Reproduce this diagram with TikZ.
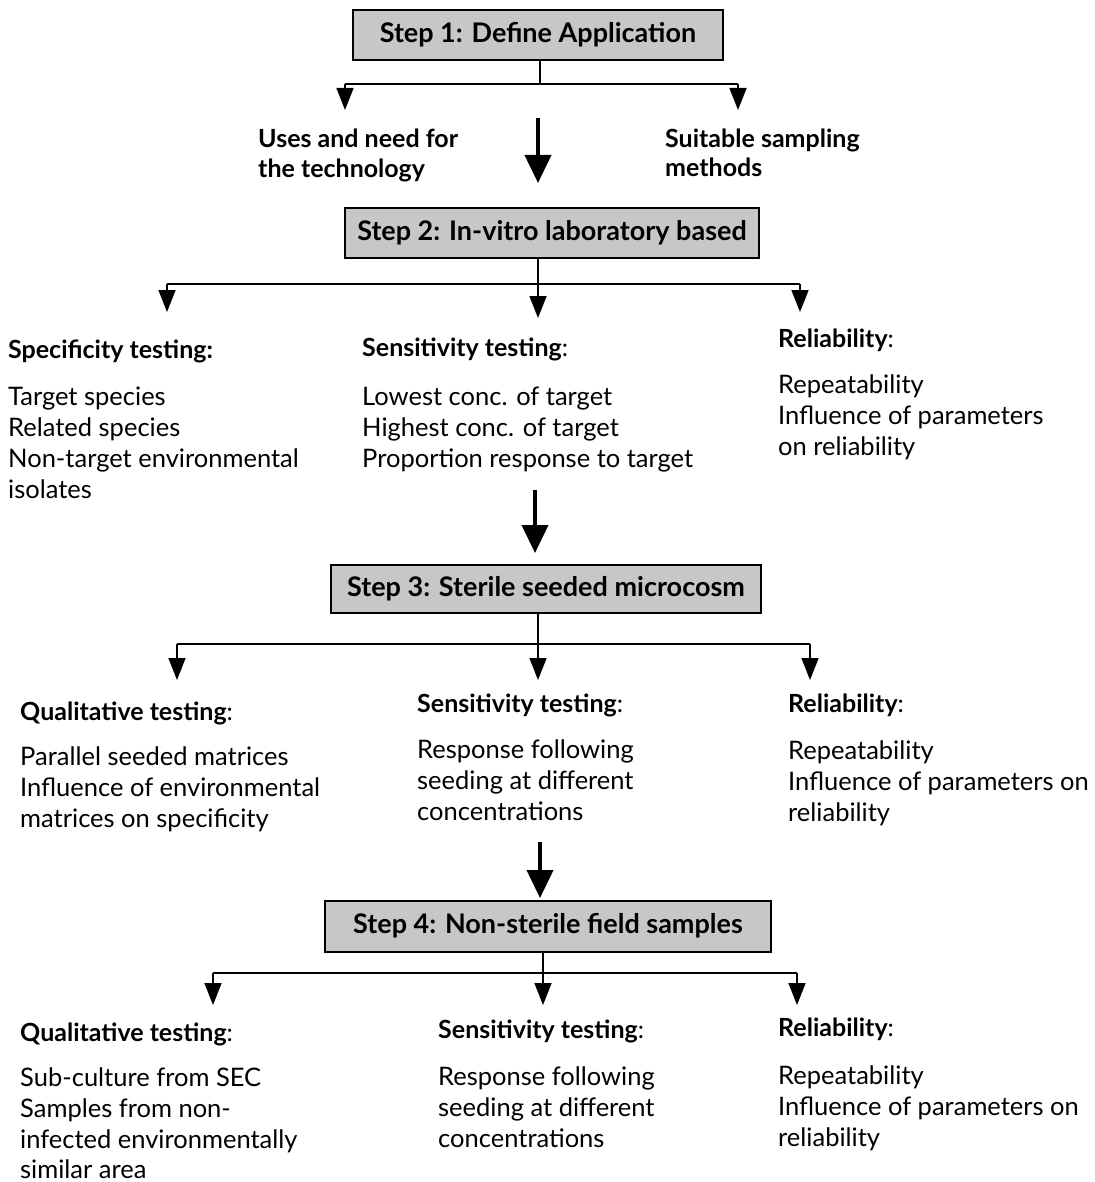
\documentclass[tikz,border=0pt]{standalone}
\usepackage{fontspec}
\setmainfont{Lato}
\usetikzlibrary{arrows.meta}
\begin{document}
\begin{tikzpicture}[x=1pt,y=-1pt,
  body/.style={anchor=base west, inner sep=0pt, font=\fontsize{25.5}{25.5}\selectfont},
  head/.style={anchor=base west, inner sep=0pt, font=\fontsize{25}{25}\selectfont\bfseries},
  stepbox/.style={draw=black, line width=2pt, fill=black!22, inner sep=0pt,
     font=\fontsize{27}{27}\selectfont\bfseries},
  link/.style={line width=1.6pt},
  branch/.style={line width=1.6pt, -{Triangle[width=17pt,length=22pt]}},
  bigarrow/.style={line width=4pt, -{Triangle[width=26pt,length=28pt]}}]
\useasboundingbox (0,0) rectangle (1094,1182);
\fill[white] (0,0) rectangle (1094,1182);

% ---------- Step 1 ----------
\node[stepbox, minimum width=370pt, minimum height=50pt] (s1) at (538,35) {Step 1: Define Application};
\coordinate (j1) at (540,84);
\coordinate (j1l) at (345,84);
\coordinate (j1r) at (738,84);
\coordinate (a1l) at (345,110);
\coordinate (a1r) at (738,110);
\draw[link] (s1.south -| j1) -- (j1);
\draw[link] (j1l) -- (j1r);
\draw[branch] (j1l) -- (a1l);
\draw[branch] (j1r) -- (a1r);
\node[head] (u1) at (258,148) {Uses and need for};
\node[head] (u2) at (258,178) {the technology};
\node[head] (m1) at (665,148) {Suitable sampling};
\node[head] (m2) at (665,177) {methods};
\coordinate (b1s) at (538,118);
\coordinate (b1e) at (538,183);
\draw[bigarrow] (b1s) -- (b1e);

% ---------- Step 2 ----------
\node[stepbox, minimum width=414pt, minimum height=50pt] (s2) at (552,233) {Step 2: In-vitro laboratory based};
\coordinate (j2) at (538,284);
\coordinate (j2l) at (167,284);
\coordinate (j2r) at (800,284);
\draw[link] (s2.south -| j2) -- (j2);
\draw[link] (j2l) -- (j2r);
\draw[branch] (j2l) -- ++(0,28) coordinate (a2l);
\draw[branch] (j2) -- ++(0,34) coordinate (a2m);
\draw[branch] (j2r) -- ++(0,28) coordinate (a2r);

\node[head] (sp0) at (8,358) {Specificity testing:};
\node[body] (sp1) at (8,405) {Target species};
\node[body] (sp2) at (8,436) {Related species};
\node[body] (sp3) at (8,467) {Non-target environmental};
\node[body] (sp4) at (8,498) {isolates};

\node[head] (se0) at (362,356) {Sensitivity testing\mdseries:};
\node[body] (se1) at (362,405) {Lowest conc. of target};
\node[body] (se2) at (362,436) {Highest conc. of target};
\node[body] (se3) at (362,467) {Proportion response to target};

\node[head] (re0) at (778,347) {Reliability\mdseries:};
\node[body] (re1) at (778,393) {Repeatability};
\node[body] (re2) at (778,424) {Influence of parameters};
\node[body] (re3) at (778,455) {on reliability};

\coordinate (b2s) at (535,490);
\coordinate (b2e) at (535,553);
\draw[bigarrow] (b2s) -- (b2e);

% ---------- Step 3 ----------
\node[stepbox, minimum width=430pt, minimum height=48pt] (s3) at (546,589) {Step 3: Sterile seeded microcosm};
\coordinate (j3) at (538,644);
\coordinate (j3l) at (177,644);
\coordinate (j3r) at (810,644);
\draw[link] (s3.south -| j3) -- (j3);
\draw[link] (j3l) -- (j3r);
\draw[branch] (j3l) -- ++(0,36) coordinate (a3l);
\draw[branch] (j3) -- ++(0,36) coordinate (a3m);
\draw[branch] (j3r) -- ++(0,36) coordinate (a3r);

\node[head] (q0) at (20,720) {Qualitative testing\mdseries:};
\node[body] (q1) at (20,765) {Parallel seeded matrices};
\node[body] (q2) at (20,796) {Influence of environmental};
\node[body] (q3) at (20,827) {matrices on specificity};

\node[head] (t0) at (417,712) {Sensitivity testing\mdseries:};
\node[body] (t1) at (417,758) {Response following};
\node[body] (t2) at (417,789) {seeding at different};
\node[body] (t3) at (417,820) {concentrations};

\node[head] (r0) at (788,712) {Reliability\mdseries:};
\node[body] (r1) at (788,759) {Repeatability};
\node[body] (r2) at (788,790) {Influence of parameters on};
\node[body] (r3) at (788,821) {reliability};

\coordinate (b3s) at (540,842);
\coordinate (b3e) at (540,898);
\draw[bigarrow] (b3s) -- (b3e);

% ---------- Step 4 ----------
\node[stepbox, minimum width=446pt, minimum height=51pt] (s4) at (548,926) {Step 4: Non-sterile field samples};
\coordinate (j4) at (543,973);
\coordinate (j4l) at (213,973);
\coordinate (j4r) at (797,973);
\draw[link] (s4.south -| j4) -- (j4);
\draw[link] (j4l) -- (j4r);
\draw[branch] (j4l) -- ++(0,32) coordinate (a4l);
\draw[branch] (j4) -- ++(0,32) coordinate (a4m);
\draw[branch] (j4r) -- ++(0,32) coordinate (a4r);

\node[head] (f0) at (20,1041) {Qualitative testing\mdseries:};
\node[body] (f1) at (20,1086) {Sub-culture from SEC};
\node[body] (f2) at (20,1117) {Samples from non-};
\node[body] (f3) at (20,1148) {infected environmentally};
\node[body] (f4) at (20,1178) {similar area};

\node[head] (g0) at (438,1038) {Sensitivity testing\mdseries:};
\node[body] (g1) at (438,1085) {Response following};
\node[body] (g2) at (438,1116) {seeding at different};
\node[body] (g3) at (438,1147) {concentrations};

\node[head] (h0) at (778,1036) {Reliability\mdseries:};
\node[body] (h1) at (778,1084) {Repeatability};
\node[body] (h2) at (778,1115) {Influence of parameters on};
\node[body] (h3) at (778,1146) {reliability};
\end{tikzpicture}
\end{document}
